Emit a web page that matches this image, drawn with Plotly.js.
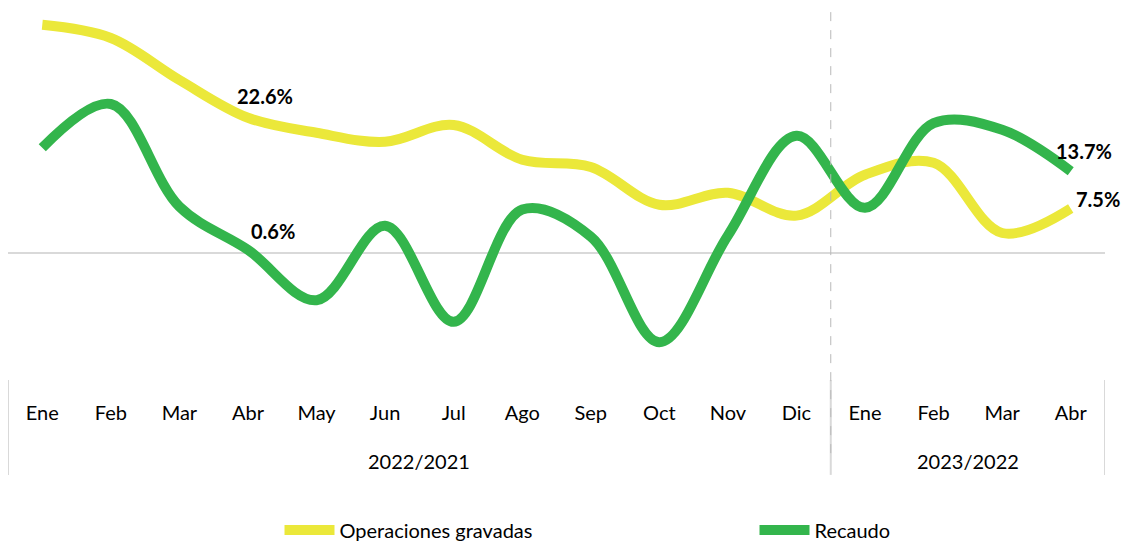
<!DOCTYPE html>
<html>
<head>
<meta charset="utf-8">
<script src="https://cdn.plot.ly/plotly-3.0.1.min.js"></script>
<style>
  html, body { margin: 0; padding: 0; background: #fff; }
  #chart { width: 1125px; height: 541px; }
</style>
</head>
<body>
<div id="chart"></div>
<script>
// Variación anual (%) por mes
let months = ["Ene", "Feb", "Mar", "Abr", "May", "Jun", "Jul", "Ago", "Sep", "Oct", "Nov", "Dic",
              "Ene", "Feb", "Mar", "Abr"];
let groups = ["2022/2021", "2023/2022"];
let groupSize = [12, 4];

let operaciones = [38.1, 35.9, 28.9, 22.6, 20.1, 18.6, 21.4, 15.6, 14.4, 8.1, 10.1, 6.3,
                   13.1, 15.1, 3.4, 7.5];
let recaudo = [17.6, 24.9, 7.8, 0.6, -7.8, 4.6, -11.4, 7.3, 2.8, -14.8, 3.0, 19.6,
               7.6, 21.7, 20.6, 13.7];

// which points get a value label, and where
let labelsOp = [{i: 3, xshift: 17, yshift: 22}, {i: 15, xshift: 27, yshift: 9}];
let labelsRec = [{i: 3, xshift: 25, yshift: 19}, {i: 15, xshift: 13, yshift: 20}];

let yellow = "#ebe83a";
let green = "#33b54c";
let sep = "#d9d9d9";
let fontName = "Lato, 'Open Sans', sans-serif";

let xs = months.map((m, i) => i);

let traceOp = {
    x: xs, y: operaciones,
    name: "Operaciones gravadas",
    mode: "lines", type: "scatter",
    line: { color: yellow, width: 10, shape: "spline", smoothing: 1 },
    legend: "legend"
};
let traceRec = {
    x: xs, y: recaudo,
    name: "Recaudo",
    mode: "lines", type: "scatter",
    line: { color: green, width: 10, shape: "spline", smoothing: 1 },
    legend: "legend2"
};

let annotations = [];
function addLabels(list, values) {
    list.forEach(l => {
        annotations.push({
            x: l.i, y: values[l.i], xref: "x", yref: "y",
            text: "<b>" + values[l.i].toFixed(1) + "%</b>",
            showarrow: false, xshift: l.xshift, yshift: l.yshift,
            font: { family: fontName, size: 20, color: "#000" }
        });
    });
}
addLabels(labelsOp, operaciones);
addLabels(labelsRec, recaudo);

// group labels + separators under the axis
let shapes = [];
let start = -0.5;
shapes.push({ type: "line", xref: "x", yref: "paper", x0: start, x1: start, y0: 0, y1: -0.253,
              line: { color: sep, width: 2 } });
groups.forEach((g, k) => {
    let end = start + groupSize[k];
    annotations.push({
        x: (start + end) / 2, y: -0.215, xref: "x", yref: "paper",
        text: g, showarrow: false, yanchor: "middle",
        font: { family: fontName, size: 20, color: "#000" }
    });
    shapes.push({ type: "line", xref: "x", yref: "paper", x0: end, x1: end, y0: 0, y1: -0.253,
                  line: { color: sep, width: 2 } });
    start = end;
});
// dashed divider between years
shapes.push({ type: "line", xref: "x", yref: "paper", x0: groupSize[0] - 0.5, x1: groupSize[0] - 0.5,
              y0: 0.981, y1: -0.213, line: { color: "#b8b8b8", width: 1, dash: "dash" } });

let legendFont = { family: fontName, size: 20, color: "#000" };

let layout = {
    width: 1125, height: 541,
    margin: { l: 8, r: 20, t: 5, b: 161, autoexpand: false },
    paper_bgcolor: "#fff", plot_bgcolor: "#fff",
    font: { family: fontName, size: 20, color: "#000" },
    xaxis: {
        range: [-0.5, 15.5],
        tickvals: xs, ticktext: months,
        showgrid: false, zeroline: false, showline: false,
        ticks: "", ticklabelstandoff: 19,
        tickfont: { family: fontName, size: 20, color: "#000" }
    },
    yaxis: {
        range: [-21.1, 41.4],
        showgrid: false, showticklabels: false, ticks: "",
        zeroline: true, zerolinecolor: sep, zerolinewidth: 2
    },
    showlegend: true,
    legend: {
        orientation: "h", x: 0.2475, xanchor: "left", y: -0.4, yanchor: "middle",
        itemwidth: 50, font: legendFont, bgcolor: "rgba(0,0,0,0)"
    },
    legend2: {
        orientation: "h", x: 0.6805, xanchor: "left", y: -0.4, yanchor: "middle",
        itemwidth: 50, font: legendFont, bgcolor: "rgba(0,0,0,0)"
    },
    annotations: annotations,
    shapes: shapes
};

Plotly.newPlot("chart", [traceOp, traceRec], layout, { displayModeBar: false, staticPlot: true });
</script>
</body>
</html>
